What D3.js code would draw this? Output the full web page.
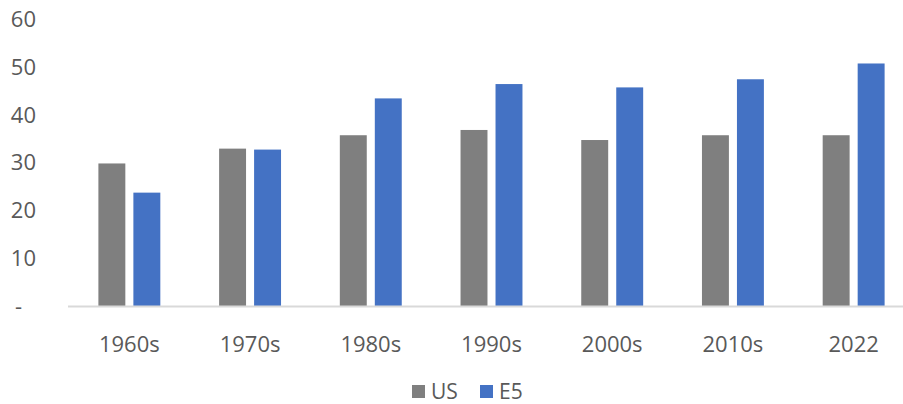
<!DOCTYPE html>
<html>
<head>
<meta charset="utf-8">
<script src="https://cdn.jsdelivr.net/npm/d3@7"></script>
<style>
  body { margin: 0; background: #fff; }
  text { font-family: "Open Sans", "Noto Sans", sans-serif; fill: #595959; }
</style>
</head>
<body>
<svg id="chart" width="903" height="404"></svg>
<script>
const categories = ["1960s", "1970s", "1980s", "1990s", "2000s", "2010s", "2022"];
const seriesNames = ["US", "E5"];
const usValues = [29.8, 32.9, 35.7, 36.8, 34.7, 35.7, 35.7];
const e5Values = [23.7, 32.7, 43.4, 46.4, 45.7, 47.4, 50.7];
const yTicks = [0, 10, 20, 30, 40, 50, 60];

const colors = { US: "#7f7f7f", E5: "#4472c4" };

const svg = d3.select("#chart");
const width = 903;
const baseline = 306;
const plotTop = 19;

const data = categories.map((c, i) => ({ cat: c, US: usValues[i], E5: e5Values[i] }));

const yScale = d3.scaleLinear().domain([0, 60]).range([baseline, plotTop]);
const x0 = d3.scaleBand().domain(categories).range([69, 914])
  .paddingInner(0.487).paddingOuter(0.2435);
const x1 = d3.scaleBand().domain(seriesNames).range([0, x0.bandwidth()])
  .paddingInner(0.23);

// y labels (accounting style, zero shown as "-")
svg.append("g")
  .selectAll("text")
  .data(yTicks)
  .enter()
  .append("text")
  .attr("x", (d) => (d === 0 ? 22 : 36))
  .attr("y", (d) => yScale(d))
  .attr("dy", "0.36em")
  .attr("text-anchor", "end")
  .style("font-size", "22px")
  .text((d) => (d === 0 ? "-" : d));

// bars
const groups = svg.append("g")
  .selectAll("g")
  .data(data)
  .enter()
  .append("g")
  .attr("transform", (d) => `translate(${x0(d.cat)},0)`);

groups.selectAll("rect")
  .data((d) => seriesNames.map((k) => ({ key: k, value: d[k] })))
  .enter()
  .append("rect")
  .attr("x", (d) => x1(d.key))
  .attr("y", (d) => yScale(d.value))
  .attr("width", x1.bandwidth())
  .attr("height", (d) => baseline - yScale(d.value))
  .attr("fill", (d) => colors[d.key]);

// x axis line
svg.append("line")
  .attr("x1", 68)
  .attr("x2", width)
  .attr("y1", baseline + 0.5)
  .attr("y2", baseline + 0.5)
  .attr("stroke", "#d9d9d9")
  .attr("stroke-width", 2);

// x labels
svg.append("g")
  .selectAll("text")
  .data(categories)
  .enter()
  .append("text")
  .attr("x", (d) => x0(d) + x0.bandwidth() / 2)
  .attr("y", 344)
  .attr("dy", "0.36em")
  .attr("text-anchor", "middle")
  .style("font-size", "22px")
  .text((d) => d);

// legend
const legendX = [412, 480];
const legend = svg.append("g")
  .selectAll("g")
  .data(seriesNames)
  .enter()
  .append("g")
  .attr("transform", (d, i) => `translate(${legendX[i]},385)`);

legend.append("rect")
  .attr("width", 13)
  .attr("height", 13)
  .attr("fill", (d) => colors[d]);

legend.append("text")
  .attr("x", 19)
  .attr("y", 7)
  .attr("dy", "0.34em")
  .style("font-size", "21px")
  .text((d) => d);
</script>
</body>
</html>
